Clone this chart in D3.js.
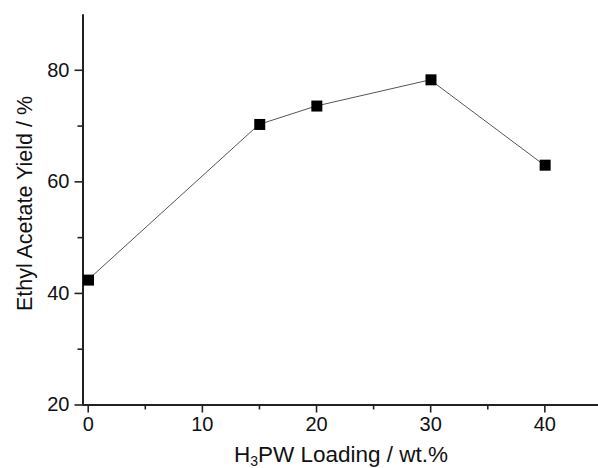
<!DOCTYPE html>
<html><head><meta charset="utf-8">
<script src="https://cdn.jsdelivr.net/npm/d3@7"></script>
<style>body{margin:0;background:#fff}svg{display:block}text{font-family:"Liberation Sans",Arial,sans-serif;fill:#111}</style>
</head><body><svg id="c" width="598" height="468"></svg>
<script>
const loading = [0, 15, 20, 30, 40];
const yieldPct = [42.3, 70.2, 73.5, 78.2, 62.9];
const xTicks = [0, 10, 20, 30, 40];
const xMinor = [5, 15, 25, 35];
const yTicks = [20, 40, 60, 80];
const yMinor = [30, 50, 70];

const svg = d3.select("#c");
const x = d3.scaleLinear().domain([-0.5, 44.7]).range([82, 598]);
const y = d3.scaleLinear().domain([20, 90]).range([404.5, 14]);

const axCol = "#222";
// X axis
const gx = svg.append("g").attr("transform", "translate(0,404.5)");
gx.call(d3.axisBottom(x).tickValues(xTicks).tickSize(8).tickSizeOuter(0).tickPadding(4).tickFormat(d3.format("d")));
gx.append("g").call(d3.axisBottom(x).tickValues(xMinor).tickSize(5).tickSizeOuter(0).tickFormat(""));
// Y axis
const gy = svg.append("g").attr("transform", "translate(82.5,0)");
gy.call(d3.axisLeft(y).tickValues(yTicks).tickSize(8).tickSizeOuter(0).tickPadding(5).tickFormat(d3.format("d")));
gy.append("g").call(d3.axisLeft(y).tickValues(yMinor).tickSize(5).tickSizeOuter(0).tickFormat(""));

svg.selectAll(".domain").attr("stroke", axCol).attr("stroke-width", 2);
svg.selectAll(".tick line").attr("stroke", axCol).attr("stroke-width", 1.6);
svg.selectAll(".tick text").attr("font-size", 20).attr("fill", "#111")
  .attr("font-family", '"Liberation Sans",Arial,sans-serif');

// line
const pts = loading.map((d, i) => [d, yieldPct[i]]);
svg.append("path").datum(pts)
  .attr("fill", "none").attr("stroke", "#555").attr("stroke-width", 1)
  .attr("d", d3.line().x(d => x(d[0])).y(d => y(d[1])));
const s = 11;
svg.selectAll("rect.m").data(pts).enter().append("rect").attr("class", "m")
  .attr("x", d => x(d[0]) - s / 2 + 0.8).attr("y", d => y(d[1]) - s / 2)
  .attr("width", s).attr("height", s).attr("fill", "#000");

// titles
svg.append("text").attr("transform", "translate(32,203.5) rotate(-90)")
  .attr("text-anchor", "middle").attr("font-size", 21.5).text("Ethyl Acetate Yield / %");
const xt = svg.append("text").attr("x", 341).attr("y", 461.5)
  .attr("text-anchor", "middle").attr("font-size", 22.5);
xt.append("tspan").text("H");
xt.append("tspan").attr("font-size", 14).attr("dy", 4).text("3");
xt.append("tspan").attr("dy", -4).text("PW Loading / wt.%");
</script></body></html>
